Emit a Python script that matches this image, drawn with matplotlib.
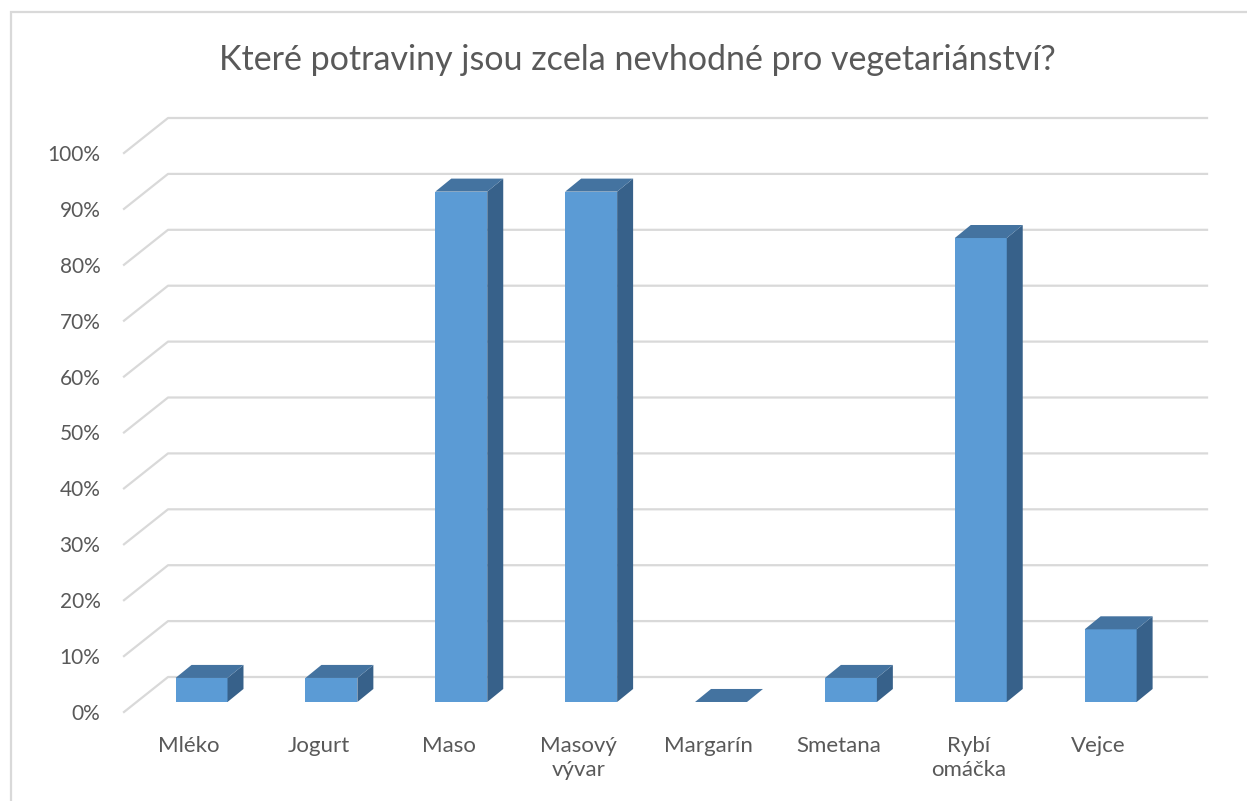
import matplotlib.pyplot as plt
from matplotlib.patches import Polygon, Rectangle
from matplotlib.lines import Line2D

plt.rcParams['font.family'] = ['Lato', 'DejaVu Sans']

# data (share of respondents, %)
categories = ['Mléko', 'Jogurt', 'Maso', 'Masový\nvývar', 'Margarín',
              'Smetana', 'Rybí\nomáčka', 'Vejce']
values = [4.3, 4.3, 91.3, 91.3, 0.0, 4.3, 83.0, 13.0]
yticks = list(range(0, 101, 10))

title = 'Které potraviny jsou zcela nevhodné pro vegetariánství?'

# colours
front_c = '#5B9BD5'
top_c = '#4473A0'
side_c = '#37618A'
grid_c = '#D9D9D9'
text_c = '#595959'

# pseudo-3D depth (in data units)
wall_dx, wall_dy = 0.339, 6.26     # floor depth: front edge -> back wall
bar_ox, bar_oy = 0.097, 1.79       # bar front face offset from front edge
bar_dx, bar_dy = 0.123, 2.33       # bar depth
bar_w = 0.40

fig = plt.figure(figsize=(12.47, 8.01), dpi=100)
ax = fig.add_axes([124 / 1247, 89 / 801, 1039 / 1247, 559 / 801])
ax.set_xlim(-0.5, len(categories) - 0.5)
ax.set_ylim(0, 100)
for s in ax.spines.values():
    s.set_visible(False)

# gridlines: left wall diagonal + back wall horizontal
x0, x1 = -0.5, len(categories) - 0.5
for v in yticks:
    ax.add_line(Line2D([x0, x0 + wall_dx, x1 + wall_dx], [v, v + wall_dy, v + wall_dy],
                       color=grid_c, lw=1.6, clip_on=False, zorder=1))

# bars
for i, v in enumerate(values):
    xl = i + bar_ox - bar_w / 2
    xr = xl + bar_w
    b = bar_oy
    if v > 0:
        ax.bar(xl, v, width=bar_w, bottom=b, align='edge', color=front_c,
               edgecolor='none', zorder=3, clip_on=False)
        ax.add_patch(Polygon([(xr, b), (xr, b + v), (xr + bar_dx, b + v + bar_dy),
                              (xr + bar_dx, b + bar_dy)], closed=True,
                             facecolor=side_c, edgecolor='none', zorder=3, clip_on=False))
    ax.add_patch(Polygon([(xl, b + v), (xr, b + v), (xr + bar_dx, b + v + bar_dy),
                          (xl + bar_dx, b + v + bar_dy)], closed=True,
                         facecolor=top_c, edgecolor='none', zorder=3, clip_on=False))

ax.set_yticks(yticks)
ax.set_yticklabels([f'{v}%' for v in yticks])
ax.set_xticks(range(len(categories)))
ax.set_xticklabels(categories, linespacing=1.3)
ax.tick_params(axis='y', length=0, pad=17, labelsize=15, labelcolor=text_c)
ax.tick_params(axis='x', length=0, pad=17, labelsize=16, labelcolor=text_c)
for lab in ax.get_xticklabels():
    lab.set_verticalalignment('top')

fig.text(0.511, 0.925, title, ha='center', va='center', fontsize=24.5, color=text_c)

# chart border (partly cropped in the original)
fig.add_artist(Rectangle((11 / 1247, -0.1), 1.2, (801 - 12) / 801 + 0.1,
                         transform=fig.transFigure, fill=False,
                         edgecolor=grid_c, lw=1.6))

fig.savefig('out.png', dpi=100, facecolor='white')
